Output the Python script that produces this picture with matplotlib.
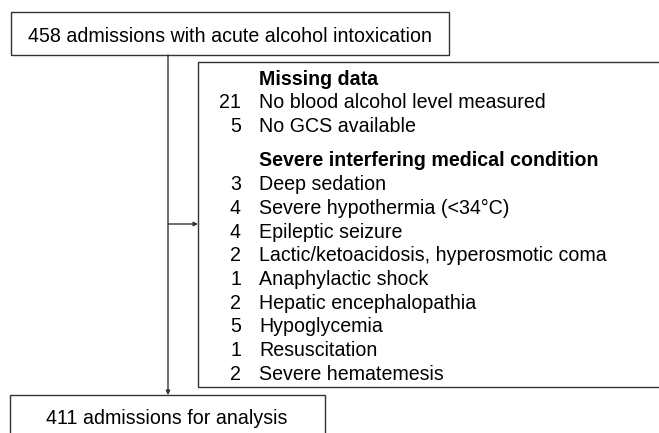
import matplotlib
matplotlib.use('Agg')
import matplotlib.pyplot as plt
from matplotlib.patches import Rectangle

plt.rcParams['font.family'] = ['Liberation Sans', 'DejaVu Sans']

# flowchart content
top_text = "458 admissions with acute alcohol intoxication"
bottom_text = "411 admissions for analysis"

missing_title = "Missing data"
missing_counts = [21, 5]
missing_labels = ["No blood alcohol level measured", "No GCS available"]

condition_title = "Severe interfering medical condition"
condition_counts = [3, 4, 4, 2, 1, 2, 5, 1, 2]
condition_labels = [
    "Deep sedation",
    "Severe hypothermia (<34°C)",
    "Epileptic seizure",
    "Lactic/ketoacidosis, hyperosmotic coma",
    "Anaphylactic shock",
    "Hepatic encephalopathia",
    "Hypoglycemia",
    "Resuscitation",
    "Severe hematemesis",
]

fig = plt.figure(figsize=(6.59, 4.33), dpi=100)
ax = fig.add_axes([0, 0, 1, 1])
ax.set_xlim(0, 659)
ax.set_ylim(433, 0)
ax.axis('off')

lc = '#333333'
fs = 14.1

# boxes
ax.add_patch(Rectangle((11, 12), 438, 43, fill=False, ec=lc, lw=1))
ax.add_patch(Rectangle((198, 62), 470, 325, fill=False, ec=lc, lw=1))
ax.add_patch(Rectangle((10, 395), 315, 60, fill=False, ec=lc, lw=1))

ax.text(230, 36, top_text, fontsize=fs, ha='center', va='center')
ax.text(167, 418, bottom_text, fontsize=fs, ha='center', va='center')

# connectors
ax.annotate('', xy=(168, 395), xytext=(168, 55),
            arrowprops=dict(arrowstyle='-|>', color=lc, lw=1, mutation_scale=6,
                            shrinkA=0, shrinkB=0))
ax.annotate('', xy=(198, 224), xytext=(168, 224),
            arrowprops=dict(arrowstyle='-|>', color=lc, lw=1, mutation_scale=6,
                            shrinkA=0, shrinkB=0))

# exclusion list
num_x = 241
lab_x = 259
y = 79.5
ax.text(lab_x, y, missing_title, fontsize=fs, fontweight='bold', va='center')
y = 103
for c, l in zip(missing_counts, missing_labels):
    ax.text(num_x, y, str(c), fontsize=fs, ha='right', va='center')
    ax.text(lab_x, y, l, fontsize=fs, va='center')
    y += 23.7
y = 160.5
ax.text(lab_x, y, condition_title, fontsize=fs, fontweight='bold', va='center')
y = 184.5
for c, l in zip(condition_counts, condition_labels):
    ax.text(num_x, y, str(c), fontsize=fs, ha='right', va='center')
    ax.text(lab_x, y, l, fontsize=fs, va='center')
    y += 23.75

fig.savefig('out.png', dpi=100)
